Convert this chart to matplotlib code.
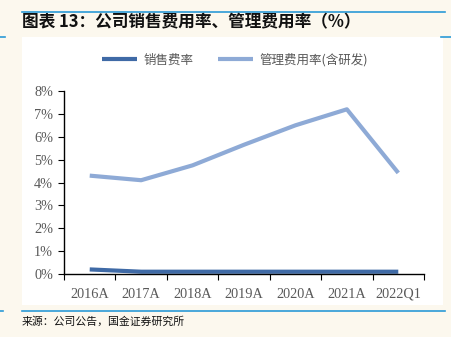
import matplotlib.pyplot as plt
from matplotlib.ticker import FuncFormatter

plt.rcParams['font.family'] = ['Noto Sans CJK SC', 'DejaVu Sans']

periods = ['2016A', '2017A', '2018A', '2019A', '2020A', '2021A', '2022Q1']
sales_rate = [0.20, 0.10, 0.10, 0.10, 0.10, 0.10, 0.10]
admin_rate = [4.30, 4.10, 4.75, 5.65, 6.50, 7.20, 4.42]

bg = '#fcf8ee'
rule = '#2b9ad6'
dark_blue = '#3f6aa6'
light_blue = '#8eaad6'
grey = '#595959'

fig = plt.figure(figsize=(4.52, 3.37), dpi=100, facecolor=bg)

# white chart panel
panel = fig.add_axes([22/452, 1 - 305/337, 421/452, 268/337])
panel.set_facecolor('white')
panel.set_xticks([])
panel.set_yticks([])
for s in panel.spines.values():
    s.set_visible(False)

# blue rules around the title and source
fig.add_artist(plt.Line2D([22/452, 445/452], [1 - 12/337] * 2, color=rule, lw=1.2))
fig.add_artist(plt.Line2D([0, 5/452], [1 - 37/337] * 2, color=rule, lw=1.2))
fig.add_artist(plt.Line2D([441/452, 1], [1 - 37/337] * 2, color=rule, lw=1.2))
fig.add_artist(plt.Line2D([22/452, 445/452], [1 - 311/337] * 2, color=rule, lw=1.2))
fig.add_artist(plt.Line2D([0, 3/452], [1 - 311/337] * 2, color=rule, lw=1.2))

fig.text(22/452, 1 - 22/337, '图表 13：公司销售费用率、管理费用率（%）', fontsize=12,
         fontweight='bold', style='italic', va='center', ha='left', color='#111111')
fig.text(22/452, 1 - 322/337, '来源：公司公告，国金证券研究所', fontsize=7.8,
         va='center', ha='left', color='#111111')

ax = fig.add_axes([64/452, 1 - 274/337, 360/452, 183/337])
ax.set_facecolor('none')
x = range(len(periods))
ax.plot(x, sales_rate, color=dark_blue, lw=3, label='销售费率', solid_capstyle='butt')
ax.plot(x, admin_rate, color=light_blue, lw=3, label='管理费用率(含研发)', solid_capstyle='butt')

ax.set_xlim(-0.5, len(periods) - 0.5)
ax.set_ylim(0, 8)
ax.set_yticks(range(0, 9))
ax.yaxis.set_major_formatter(FuncFormatter(lambda v, p: f'{int(v)}%'))
ax.set_xticks([i - 0.5 for i in range(len(periods) + 1)], minor=False)
ax.set_xticklabels([])
ax.set_xticks(list(x), minor=True)
ax.set_xticklabels(periods, minor=True)
ax.tick_params(axis='x', which='minor', length=0, pad=17)
ax.tick_params(axis='x', which='major', length=4, direction='out', color='black')
ax.tick_params(axis='y', length=4, direction='out', color='black', pad=4)
for lab in ax.get_xticklabels(minor=True):
    lab.set_verticalalignment('baseline')
for lab in ax.get_xticklabels(minor=True) + ax.get_yticklabels():
    lab.set_fontfamily(['Liberation Serif'])
    lab.set_fontsize(10.3)
    lab.set_color(grey)
ax.spines['top'].set_visible(False)
ax.spines['right'].set_visible(False)
ax.spines['left'].set_linewidth(1)
ax.spines['bottom'].set_linewidth(1)

leg = fig.legend(loc='center', bbox_to_anchor=(235/452, 1 - 60/337), ncol=2, frameon=False,
                 fontsize=9, handlelength=2.8, handletextpad=0.5, columnspacing=2.0)
for t in leg.get_texts():
    t.set_color(grey)

fig.savefig('out.png', dpi=100, facecolor=bg)
